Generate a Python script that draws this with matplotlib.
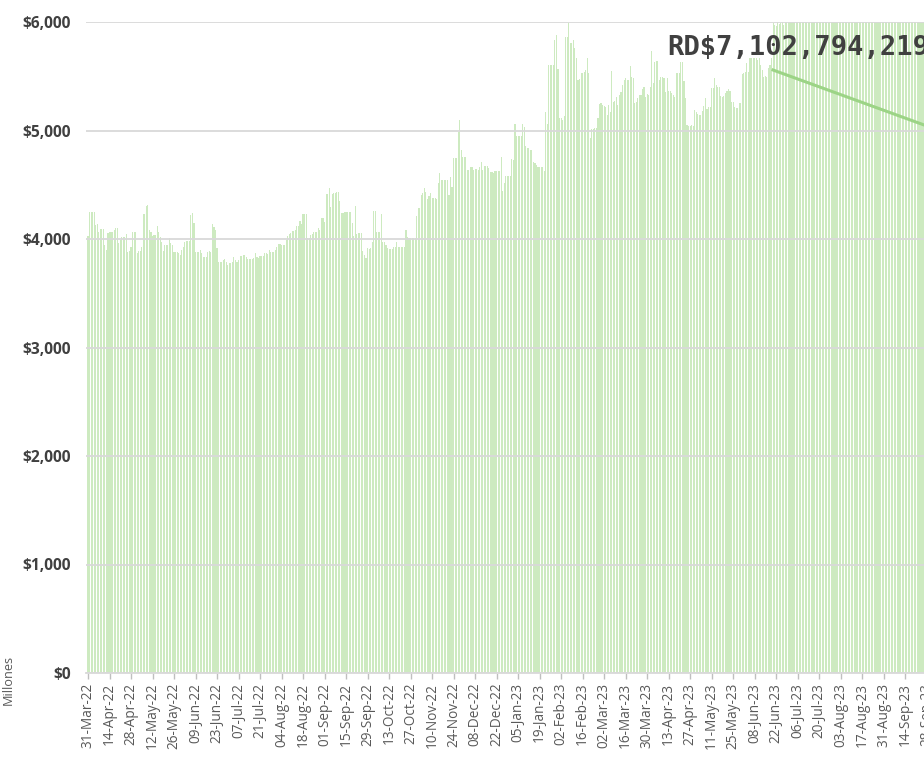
import matplotlib
matplotlib.use('Agg')
import matplotlib.pyplot as plt
import matplotlib.dates as mdates
from matplotlib.lines import Line2D
import numpy as np
import pandas as pd

# ---------------- data (millions RD$) ----------------
start_date = '2022-03-31'

vals_2022a = [
    4028, 4246, 4246, 4249, 4252, 4129, 4138, 4068, 4089, 4089,
    4089, 3945, 3899, 4052, 4065, 4065, 4065, 4083, 4098, 4098,
    3960, 3991, 4022, 4022, 4022, 4043, 3883, 3893, 3923, 4062,
    4062, 4062, 3868, 3890, 3890, 3923, 4231, 4231, 4307, 4313,
    4083, 4062, 4031, 4037, 4037, 4123, 4068, 4022, 3976, 3890,
    3945, 3945, 3945, 4006, 3960, 3945, 3883, 3883, 3883, 3868,
    3853, 3899, 3929, 3976, 3985, 3985, 3982, 4221, 4237, 4144,
    3883, 3883, 3883, 3899, 3868, 3837, 3837, 3837, 3883, 3890,
    3883, 4135, 4114, 4083, 3914, 3791, 3791, 3791, 3807, 3813,
    3791, 3760, 3782, 3782, 3791, 3831, 3807, 3791, 3807, 3843,
    3843, 3853, 3853, 3831, 3813, 3813, 3813, 3813, 3822, 3868,
]
vals_2022b = [
    3837, 3822, 3843, 3843, 3843, 3868, 3868, 3859, 3899, 3877,
    3877, 3877, 3899, 3929, 3951, 3951, 3945, 3945, 3945, 3991,
    4028, 4043, 4052, 4074, 4074, 4083, 4120, 4120, 4166, 4138,
    4227, 4227, 4227, 4006, 4006, 4037, 4046, 4062, 4062, 4068,
    4105, 4083, 4191, 4191, 4160, 4415, 4415, 4467, 4298, 4412,
    4427, 4427, 4436, 4436, 4350, 4243, 4243, 4246, 4252, 4252,
    4252, 4252, 4151, 4028, 4304, 4046, 4052, 4052, 4052, 3893,
    3853, 3828, 3914, 3908, 3914, 3975, 4261, 4258, 4068, 4068,
    4068, 4227, 3975, 3975, 3945, 3914, 3908, 3908, 3908, 3929,
    3929, 3975, 3929, 3929, 3929, 3929, 3929, 4083, 4015, 4006,
    4006, 4006, 4006, 4006, 4215, 4283, 4283,
]
vals_2022c = [
    4406, 4421, 4467, 4436, 4369, 4400, 4421, 4375, 4381, 4375,
    4369, 4513, 4605, 4544, 4544, 4544, 4544, 4544, 4405, 4568,
    4482, 4750, 4750, 4750, 4989, 5097, 4820, 4753, 4753, 4759,
    4636, 4636, 4667, 4661, 4636, 4645, 4645, 4636, 4661, 4707,
    4636, 4676, 4676, 4676, 4651, 4621, 4621, 4605, 4627, 4627,
    4627, 4627, 4753, 4445, 4513, 4581, 4581, 4581, 4581, 4737,
    4728, 5060, 4952, 4952, 4952, 4952, 5060, 5035, 4857, 4836,
    4842, 4820, 4820, 4713, 4697, 4682, 4661, 4667, 4667, 4667,
    4630,
]
vals_2023a = [
    5173, 5060, 5604, 5604, 5604, 5604, 5834, 5880, 5567, 5115,
    5115, 5100, 5134, 5862, 5862, 5994, 5806, 5806, 5834, 5760,
    5668, 5465, 5472, 5527, 5533, 5542, 5557, 5668, 5533, 4930,
    5012, 5012, 5020, 5020, 5115, 5244, 5250, 5235, 5228, 5220,
    5143, 5235, 5174, 5548, 5260, 5272, 5312, 5235, 5327, 5358,
    5420, 5465, 5481, 5465, 5465, 5598, 5496, 5481, 5250, 5260,
    5296, 5327, 5327, 5380, 5404, 5312, 5333, 5327, 5404, 5733,
    5435, 5634, 5641, 5641, 5465, 5490, 5490, 5481, 5358, 5481,
    5364, 5364, 5343, 5327, 5312, 5527, 5527, 5527, 5634, 5634,
    5456, 5296, 5051, 5044, 5044, 5051, 5044, 5189, 5174, 5149,
    5143, 5143, 5180, 5229, 5296, 5198, 5220, 5220, 5395, 5395,
    5487, 5419, 5404, 5404, 5321, 5312, 5321, 5343, 5364, 5382,
    5364, 5260, 5266, 5220, 5204, 5204, 5250, 5250, 5518, 5527,
    5542, 5619, 5542, 5665, 5665, 5665, 5665, 5665, 5650, 5665,
    5600, 5556, 5495, 5500, 5495, 5572, 5600, 5664, 5990, 5975,
    5960, 6020, 5980, 5990, 6050, 5970, 6080,
]
vals_2023b = [
    6100, 6150, 6120, 6180, 6210, 6210, 6210, 6250, 6230, 6300,
    6280, 6320, 6320, 6320, 6350, 6400, 6380, 6420, 6450, 6450,
    6450, 6480, 6500, 6470, 6520, 6560, 6560, 6560, 6600, 6580,
    6620, 6650, 6640, 6640, 6640, 6680, 6700, 6690, 6720, 6750,
    6750, 6750, 6780, 6800, 6790, 6820, 6850, 6850, 6850, 6870,
    6900, 6880, 6910, 6930, 6930, 6930, 6950, 6970, 6960, 6980,
    7000, 7000, 7000, 7010, 7030, 7020, 7040, 7060, 7060, 7060,
    7050, 7040, 7040, 7040, 7060, 7070, 7050, 7080, 7090, 7090,
    7090, 7060, 7070, 7080, 7085, 7085, 7085, 7090, 7095, 7080,
    7070, 7070, 7070, 7085, 7090, 7095, 7098, 7100, 7100, 7100,
    7095, 7090, 7098, 7100, 7101, 7102.794219,
]

y_ticks = [0, 1000, 2000, 3000, 4000, 5000, 6000]
y_tick_labels = ['$0', '$1,000', '$2,000', '$3,000', '$4,000', '$5,000', '$6,000']
annotation_text = 'RD$7,102,794,219'
unit_label = 'Millones'

values = np.array(vals_2022a + vals_2022b + vals_2022c + vals_2023a + vals_2023b, dtype=float)
dates = pd.date_range(start_date, periods=len(values), freq='D')
tick_dates = pd.date_range(start_date, '2023-10-26', freq='14D')
tick_labels = [d.strftime('%d-%b-%y') for d in tick_dates]

# ---------------- figure ----------------
W, H = 924, 758
fig = plt.figure(figsize=(W / 100, H / 100), dpi=100)

px_per_day = 1.536
left_pad_days = 1.2
span_days = 600
ax_left_px = 88 - left_pad_days * px_per_day
ax_w_px = (span_days + left_pad_days) * px_per_day
ax = fig.add_axes([ax_left_px / W, 1 - 673 / H, ax_w_px / W, (673 - 22) / H])

ax.bar(dates, values, width=0.72, color='#cdeac0', linewidth=0, zorder=1)

x0 = mdates.date2num(dates[0])

ax.set_yticks(y_ticks)
ax.set_yticklabels(y_tick_labels, fontfamily='Open Sans', fontweight='bold',
                   fontsize=11.2, color='#404040')
ax.set_xticks(mdates.date2num(tick_dates))
ax.set_xticklabels(tick_labels, rotation=90, fontfamily='Open Sans',
                   fontsize=9.8, color='#595959')
ax.set_xlim(x0 - left_pad_days, x0 + span_days)
ax.set_ylim(0, 6000)

ax.yaxis.grid(True, color='#d9d9d9', linewidth=1.3)
ax.set_axisbelow(False)
ax.xaxis.grid(False)
for s in ['left', 'right', 'top']:
    ax.spines[s].set_visible(False)
ax.spines['bottom'].set_color('#d9d9d9')
ax.spines['bottom'].set_linewidth(1.3)
ax.spines['bottom'].set_zorder(3)
ax.tick_params(axis='y', length=0, pad=11)
ax.tick_params(axis='x', length=4, width=1, color='#bfbfbf', pad=3)

fig.text(8 / W, 1 - 680 / H, unit_label, rotation=90, ha='center', va='center',
         fontfamily='Open Sans', fontsize=9.2, color='#595959')

# annotation line + label
fig.add_artist(Line2D([773 / W, 1000 / W], [1 - 70 / H, 1 - 152.6 / H],
                      transform=fig.transFigure, color='#9cd486', linewidth=2.2))
fig.text(667 / W, 1 - 55 / H, annotation_text, ha='left', va='baseline',
         fontfamily='DejaVu Sans Mono', fontweight='bold', fontsize=19.5,
         color='#404040')

fig.savefig('out.png', dpi=100)
